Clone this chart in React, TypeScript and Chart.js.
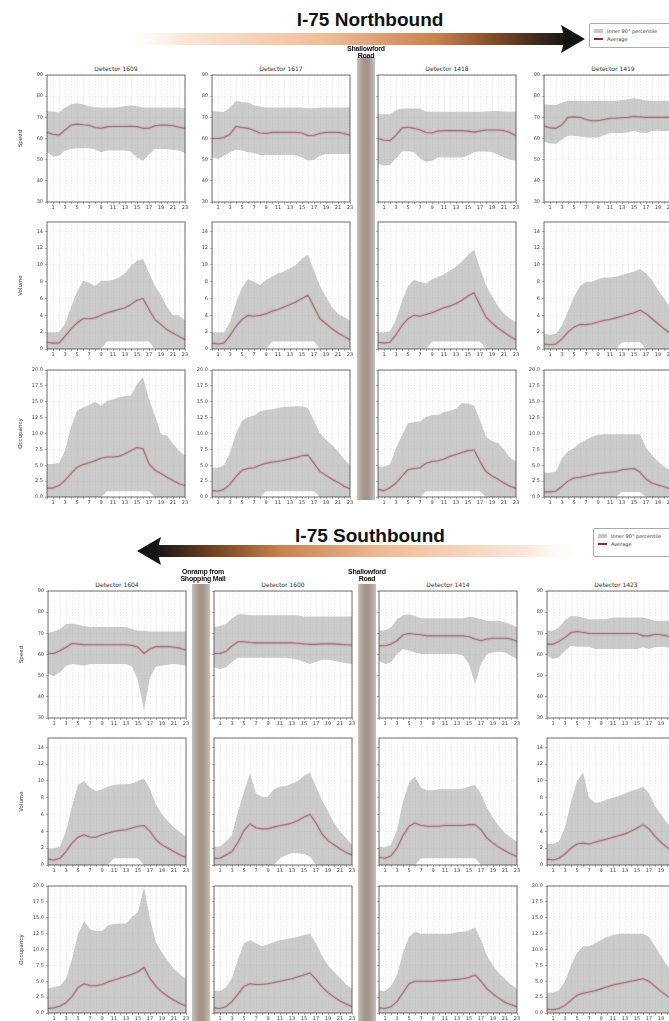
import React, { useEffect, useRef } from 'react';
import { Chart, registerables } from 'chart.js';
Chart.register(...registerables);

// ---------- categories / ticks ----------
const HOURS = [0,1,2,3,4,5,6,7,8,9,10,11,12,13,14,15,16,17,18,19,20,21,22,23];
const SPEED_TICKS = [30,40,50,60,70,80,90];
const VOLUME_TICKS = [0,2,4,6,8,10,12,14];
const OCC_TICKS = [0,2.5,5,7.5,10,12.5,15,17.5,20];
const NB_DETECTORS = ['1609','1617','1418','1419'];
const SB_DETECTORS = ['1604','1600','1414','1423'];

// ---------- Northbound speed ----------
const nb1609SpeedAvg = [62.9,62,61.6,64,66.3,66.8,66.5,66.3,65.2,64.8,65.5,65.7,65.7,65.7,65.8,65.6,64.8,64.9,66,66.3,66.3,66,65.3,64.8];
const nb1609SpeedUp = [73,72.8,72.3,74.6,76.2,76.7,76.2,75.2,74.8,74.6,74.6,74.6,74.8,75.4,75.7,75.2,74.6,74.6,74.6,74.6,74.6,74.6,74.6,74.3];
const nb1609SpeedLo = [53.5,51.6,51.9,54.3,55,55.4,55.4,55.4,54.8,53.5,54.3,54.3,54.3,54.3,53.8,51,49.5,52.5,55,55,55,54.6,54.3,53.2];
const nb1617SpeedAvg = [60,60,60.5,62,65.7,65.2,64.8,63.8,62.6,62.4,62.9,62.9,62.9,62.9,62.9,62.6,61.4,61.5,62.4,62.9,62.9,62.9,62.4,61.6];
const nb1617SpeedUp = [73,72.8,72.5,74.6,77.8,77.3,77,75.7,75,74.6,74.6,74.6,74.6,74.6,74.6,74.6,74.3,74.3,74.6,74.6,74.6,74.6,74.6,74.6];
const nb1617SpeedLo = [51.1,50.3,51.9,53.5,54.7,54.3,53.5,53.2,52.2,52.2,52.2,52.2,52.2,52.2,52,51.1,49.6,50,51.9,52.7,52.7,52.7,52.7,52.7];
const nb1418SpeedAvg = [60,59.2,59,61.5,65,65.3,64.8,64,62.8,62.6,63.5,63.7,63.7,63.7,63.7,63.5,63,63.5,64,64,64,63.7,62.8,61.3];
const nb1418SpeedUp = [71.5,71.5,71.5,73.5,74.2,74.2,74.2,74.2,72.8,72.6,72.6,72.6,72.6,72.6,72.6,72.6,72.6,72.6,72.8,73,73,72.8,72.6,72.6];
const nb1418SpeedLo = [48,47.2,47.5,50.5,53.8,54,53.5,50.5,49,49.5,51,51,51,51,51,52,53.5,53.8,53.8,53.5,52.5,51,50,49.5];
const nb1419SpeedAvg = [66,65,64.8,66.5,70,70.2,70,69,68.4,68.4,69,69.6,69.6,69.8,70,70.4,70.2,70,70,70,70,70,70,69.8];
const nb1419SpeedUp = [76.2,76,75.8,77,77.8,77.8,77.8,77.8,77.8,77.8,77.8,77.8,77.8,78.2,78.6,79,78.6,78,77.8,77.8,77.8,77.8,77.8,77.8];
const nb1419SpeedLo = [58.5,57.6,57.4,59.5,61.3,61.3,61,60.5,60.3,60.5,61.5,62.6,62.6,62.6,63,63.7,62.8,62.6,63.5,63.7,63.5,63.5,63.5,63.5];

// ---------- Northbound volume ----------
const nb1609VolAvg = [0.8,0.7,0.7,1.5,2.4,3.1,3.6,3.6,3.7,4.0,4.3,4.5,4.7,4.9,5.3,5.8,6.0,4.7,3.5,2.9,2.3,1.9,1.5,1.1];
const nb1609VolUp = [2.0,2.0,2.0,3.0,5.0,6.8,8.1,7.9,7.5,8.1,8.1,8.2,8.5,9.0,9.9,10.5,10.7,9.1,7.5,6.4,5.0,4.0,4.0,3.4];
const nb1609VolLo = [0,0,0,0,0,0,0,0,0,0,0.9,0.9,0.9,0.9,0.9,0.9,0.9,0.9,0,0,0,0,0,0];
const nb1617VolAvg = [0.7,0.6,0.7,1.6,2.7,3.5,4.0,3.9,4.0,4.2,4.5,4.7,5.0,5.3,5.6,6.0,6.4,5.0,3.6,3.0,2.4,1.9,1.5,1.1];
const nb1617VolUp = [2.0,2.0,2.0,3.2,5.5,7.3,8.3,8.0,7.6,8.2,8.6,9.0,9.2,9.6,10.0,10.8,11.2,9.3,7.5,6.2,5.0,4.2,3.8,3.4];
const nb1617VolLo = [0,0,0,0,0,0,0,0,0,0,0.9,0.9,0.9,0.9,0.9,0.9,0.9,0.9,0,0,0,0,0,0];
const nb1418VolAvg = [0.8,0.7,0.8,1.7,2.8,3.6,4.0,3.9,4.1,4.3,4.6,4.9,5.1,5.4,5.8,6.3,6.7,5.2,3.8,3.1,2.5,2.0,1.5,1.1];
const nb1418VolUp = [2.0,2.0,2.1,3.5,5.7,7.5,8.2,8.0,7.8,8.3,8.6,8.9,9.3,9.8,10.4,11.2,11.8,9.6,7.6,6.3,5.1,4.2,3.6,3.2];
const nb1418VolLo = [0,0,0,0,0,0,0,0,0,0.9,0.9,0.9,0.9,0.9,0.9,0.9,0.9,0.9,0,0,0,0,0,0];
const nb1419VolAvg = [0.6,0.5,0.6,1.2,2.0,2.6,2.9,2.9,3.0,3.2,3.4,3.5,3.7,3.9,4.1,4.3,4.6,4.2,3.6,3.0,2.4,1.9,1.4,1.0];
const nb1419VolUp = [1.8,1.7,1.8,2.8,4.5,6.2,7.5,8.0,8.0,8.3,8.5,8.5,8.6,8.8,9.0,9.2,9.5,9.0,8.2,7.0,6.0,5.0,4.0,3.2];
const nb1419VolLo = [0,0,0,0,0,0,0,0,0,0,0,0,0,0.8,0.8,0.8,0.8,0,0,0,0,0,0,0];

// ---------- Northbound occupancy ----------
const nb1609OccAvg = [1.4,1.4,1.8,2.6,3.7,4.7,5.1,5.4,5.7,6.1,6.3,6.3,6.4,6.8,7.3,7.8,7.6,5.2,4.2,3.7,3.1,2.6,2.1,1.8];
const nb1609OccUp = [5.2,5.2,5.4,7.3,11.0,13.6,14.1,14.5,15.0,14.4,15.1,15.4,15.7,15.9,16.0,17.8,18.8,15.4,12.8,9.9,9.7,8.4,7.3,6.5];
const nb1609OccLo = [0,0,0,0,0,0,0,0,0,0,0.9,0.9,0.9,0.9,0.9,0.9,0.9,0.9,0,0,0,0,0,0];
const nb1617OccAvg = [1.0,0.9,1.2,2.0,3.2,4.2,4.5,4.6,5.0,5.3,5.5,5.6,5.8,6.0,6.2,6.5,6.6,5.3,4.0,3.4,2.8,2.3,1.7,1.3];
const nb1617OccUp = [4.6,4.6,5.0,7.0,10.0,12.0,12.6,12.8,13.5,13.7,13.8,14.0,14.2,14.2,14.3,14.3,14.0,12.0,10.0,9.0,8.2,7.2,6.0,5.0];
const nb1617OccLo = [0,0,0,0,0,0,0,0,0,0.9,0.9,0.9,0.9,0.9,0.9,0.9,0.9,0.9,0,0,0,0,0,0];
const nb1418OccAvg = [1.2,1.0,1.45,2.2,3.3,4.3,4.5,4.6,5.3,5.6,5.7,6.0,6.4,6.7,7.0,7.3,7.4,5.6,4.0,3.3,2.8,2.2,1.7,1.35];
const nb1418OccUp = [4.8,4.8,5.1,7.7,9.7,11.6,11.8,11.9,12.6,12.9,12.9,13.4,13.6,13.9,14.8,14.7,14.4,12.1,9.5,8.8,8.5,7.5,6.2,5.6];
const nb1418OccLo = [0,0,0,0,0,0,0,0,0.9,0.9,0.9,0.9,0.9,0.9,0.9,0.9,0.9,0.9,0,0,0,0,0,0];
const nb1419OccAvg = [0.8,0.8,0.95,1.7,2.5,3.0,3.1,3.3,3.5,3.7,3.8,3.9,4.0,4.3,4.4,4.5,3.9,2.8,2.2,1.9,1.6,1.3,1.1,0.9];
const nb1419OccUp = [3.8,3.8,4.0,6.1,7.2,7.7,8.5,9.0,9.5,9.8,9.9,9.9,9.9,9.9,9.9,9.9,9.9,7.7,6.6,5.6,4.8,4.2,3.8,3.5];
const nb1419OccLo = [0,0,0,0,0,0,0,0,0,0,0,0,0,0.8,0.8,0.8,0.8,0,0,0,0,0,0,0];

// ---------- Southbound speed ----------
const sb1604SpeedAvg = [60.5,60.5,61.8,63.4,65.2,64.9,64.6,64.6,64.6,64.6,64.6,64.6,64.6,64.6,64.3,63.4,60.5,62.6,63.7,63.7,63.7,63.4,63,62];
const sb1604SpeedUp = [70.4,70.9,72,74.3,74.6,74,73.5,73,73,73,73,73,73,73,72,71.2,71.2,70.9,70.9,70.9,70.9,70.9,70.9,70.9];
const sb1604SpeedLo = [50.8,50,51.6,54.7,55.5,55.2,54.7,55.5,55.5,55.5,55.5,55.5,55.5,55.5,54.3,47.7,33.6,49.2,54.3,54.7,55.2,55.5,55.2,54.7];
const sb1600SpeedAvg = [60.5,60.5,61.5,64,66,66,65.7,65.5,65.5,65.5,65.5,65.5,65.5,65.5,65.3,65,64.8,64.8,65,65,65,64.8,64.6,64.5];
const sb1600SpeedUp = [73,73.5,74.5,77,79,79,78.5,78.5,78.5,78.5,78.5,78.5,78.5,78.5,78.5,78,78,78,78,78,78,78,78,78];
const sb1600SpeedLo = [54,53,54,56.5,58.5,58.5,58.5,58.5,58.5,58.5,58.5,58.5,58.5,58,57.5,56.5,55.5,56.5,57.5,57.5,57,56.5,56,55.5];
const sb1414SpeedAvg = [64.1,64.1,64.9,66.5,69.3,69.9,69.6,69.3,68.8,68.8,68.8,68.8,68.8,68.8,68.8,68.4,67.3,66.5,67.3,67.7,67.7,67.7,67.3,66.2];
const sb1414SpeedUp = [71.2,71.5,72.8,76.7,78.7,79,78.2,77.1,77.1,77.1,77.1,77.1,77.1,77.1,77.1,77.8,77.5,76.7,75.9,75.9,75.9,75.1,74.3,72.8];
const sb1414SpeedLo = [57.1,55.5,56.3,60.2,62.6,61.8,61,60.2,60.2,60.2,60.2,60.2,60.2,60.2,59.4,55.5,46.1,55.5,60.2,61,61.3,61,59.4,57.9];
const sb1423SpeedAvg = [64.9,64.9,66.2,68,70.4,70.9,70.4,69.9,69.9,69.9,69.9,69.9,69.9,69.9,69.9,69.9,68.8,68.8,69.6,69.3,68.8,68.4,68.4,68.4];
const sb1423SpeedUp = [71.2,71.2,72.8,76.2,78.2,78,77.5,76.7,76.7,76.7,76.7,77.5,77.5,77.5,77.5,77.5,77.5,76.7,75.9,75.9,75.9,75.9,75.1,75];
const sb1423SpeedLo = [59.4,57.9,58.7,61.8,64.1,63.7,63.7,63.7,62.6,62.6,62.6,62.6,62.6,62.6,62.6,62.6,63.4,62.6,63.4,63.7,63.4,62.6,62.6,62.6];

// ---------- Southbound volume ----------
const sb1604VolAvg = [0.7,0.6,0.8,1.6,2.6,3.3,3.6,3.3,3.3,3.6,3.8,4.0,4.1,4.2,4.4,4.6,4.7,4.0,3.0,2.4,2.0,1.6,1.2,0.9];
const sb1604VolUp = [2.0,2.0,2.2,4.0,7.0,9.5,10.0,9.2,8.8,9.0,9.3,9.5,9.6,9.6,9.7,10.0,10.3,9.0,7.2,6.0,5.2,4.5,3.9,3.4];
const sb1604VolLo = [0,0,0,0,0,0,0,0,0,0,0,0.8,0.8,0.8,0.8,0.8,0,0,0,0,0,0,0,0];
const sb1600VolAvg = [0.8,0.8,1.2,1.6,2.7,4.1,4.9,4.4,4.3,4.3,4.5,4.7,4.8,5.0,5.3,5.7,6.0,5.0,3.7,2.9,2.4,1.9,1.5,1.2];
const sb1600VolUp = [2.2,2.2,2.8,3.6,6.4,8.7,10.9,8.5,8.1,8.1,9.0,9.3,9.4,9.7,10.0,10.6,11.0,9.3,7.7,6.4,5.0,4.0,3.2,2.4];
const sb1600VolLo = [0,0,0,0,0,0,0,0,0,0,0,0.8,1.2,1.4,1.4,1.3,1.0,0,0,0,0,0,0,0];
const sb1414VolAvg = [0.9,0.8,1.1,2.0,3.5,4.6,5.0,4.7,4.6,4.6,4.6,4.7,4.7,4.7,4.7,4.8,4.8,4.2,3.2,2.6,2.1,1.7,1.3,1.0];
const sb1414VolUp = [2.2,2.1,2.4,4.2,7.5,9.8,10.5,9.2,8.9,8.9,9.0,9.0,9.0,9.0,9.1,9.3,9.5,8.5,6.8,5.6,4.6,3.8,3.2,2.8];
const sb1414VolLo = [0,0,0,0,0,0,0,0.8,0.8,0.8,0.8,0.8,0.8,0.8,0.8,0.8,0.8,0,0,0,0,0,0,0];
const sb1423VolAvg = [0.7,0.6,0.8,1.3,2.0,2.5,2.6,2.5,2.7,2.9,3.1,3.3,3.5,3.7,4.0,4.4,4.8,4.3,3.4,2.7,2.1,1.6,1.2,0.9];
const sb1423VolUp = [2.5,2.5,2.8,4.5,7.5,10.0,11.0,8.0,7.4,7.5,7.8,8.0,8.2,8.5,8.8,9.0,9.3,8.5,7.0,6.0,5.0,4.2,3.5,3.0];
const sb1423VolLo = [0,0,0,0,0,0,0,0,0,0,0,0,0,0,0,0,0,0,0,0,0,0,0,0];

// ---------- Southbound occupancy ----------
const sb1604OccAvg = [0.7,0.8,1.1,1.6,2.6,4.0,4.6,4.3,4.3,4.5,4.9,5.2,5.5,5.8,6.1,6.5,7.2,5.4,4.2,3.3,2.6,2.0,1.5,1.1];
const sb1604OccUp = [3.8,4.1,4.3,5.4,8.5,12.4,14.5,13.2,12.9,12.9,13.8,14.0,14.1,14.1,15.1,15.9,19.8,14.9,11.1,9.5,8.2,6.9,6.1,5.4];
const sb1604OccLo = [0,0,0,0,0,0,0,0,0,0,0,0,0,0,0,0,0,0,0,0,0,0,0,0];
const sb1600OccAvg = [0.8,0.7,1.0,1.8,3.0,4.2,4.6,4.5,4.5,4.6,4.8,5.0,5.2,5.4,5.7,6.0,6.3,5.3,4.1,3.2,2.5,1.9,1.4,1.0];
const sb1600OccUp = [3.5,3.5,4.0,5.5,8.5,11.0,11.5,11.0,10.5,10.8,11.2,11.5,11.6,11.8,12.0,12.3,12.5,11.0,9.0,7.5,6.5,5.5,4.5,3.8];
const sb1600OccLo = [0,0,0,0,0,0,0,0,0,0,0,0,0,0,0,0,0,0,0,0,0,0,0,0];
const sb1414OccAvg = [0.8,0.7,1.0,1.8,3.2,4.6,5.0,5.0,5.0,5.0,5.1,5.1,5.2,5.3,5.4,5.6,6.0,5.0,3.8,3.0,2.3,1.7,1.3,1.0];
const sb1414OccUp = [3.5,3.5,4.2,6.0,9.5,12.0,12.8,12.5,12.5,12.5,12.5,12.5,12.5,12.7,12.8,13.0,13.5,11.5,9.0,7.5,6.3,5.3,4.5,3.8];
const sb1414OccLo = [0,0,0,0,0,0,0,0,0,0,0,0,0,0,0,0,0,0,0,0,0,0,0,0];
const sb1423OccAvg = [0.6,0.5,0.7,1.2,2.0,2.8,3.1,3.3,3.5,3.8,4.1,4.4,4.6,4.8,5.0,5.2,5.4,5.0,4.2,3.4,2.7,2.1,1.6,1.2];
const sb1423OccUp = [3.2,3.2,3.6,5.0,7.5,9.5,10.5,10.5,11.0,11.5,12.0,12.3,12.5,12.5,12.5,12.5,12.5,12.0,10.5,9.0,7.5,6.5,5.5,4.5];
const sb1423OccLo = [0,0,0,0,0,0,0,0,0,0,0,0,0,0,0,0,0,0,0,0,0,0,0,0];

// ---------- row definitions ----------
const ROWS = [
  { label: 'Speed', min: 30, max: 90, ticks: SPEED_TICKS, fmt: (v: number) => String(v) },
  { label: 'Volume', min: 0, max: 15.1, ticks: VOLUME_TICKS, fmt: (v: number) => String(v) },
  { label: 'Occupancy', min: 0, max: 20, ticks: OCC_TICKS, fmt: (v: number) => v.toFixed(1) },
];

type Series = { avg: number[]; up: number[]; lo: number[] };
const NB_SERIES: Series[][] = [
  [
    { avg: nb1609SpeedAvg, up: nb1609SpeedUp, lo: nb1609SpeedLo },
    { avg: nb1617SpeedAvg, up: nb1617SpeedUp, lo: nb1617SpeedLo },
    { avg: nb1418SpeedAvg, up: nb1418SpeedUp, lo: nb1418SpeedLo },
    { avg: nb1419SpeedAvg, up: nb1419SpeedUp, lo: nb1419SpeedLo },
  ],
  [
    { avg: nb1609VolAvg, up: nb1609VolUp, lo: nb1609VolLo },
    { avg: nb1617VolAvg, up: nb1617VolUp, lo: nb1617VolLo },
    { avg: nb1418VolAvg, up: nb1418VolUp, lo: nb1418VolLo },
    { avg: nb1419VolAvg, up: nb1419VolUp, lo: nb1419VolLo },
  ],
  [
    { avg: nb1609OccAvg, up: nb1609OccUp, lo: nb1609OccLo },
    { avg: nb1617OccAvg, up: nb1617OccUp, lo: nb1617OccLo },
    { avg: nb1418OccAvg, up: nb1418OccUp, lo: nb1418OccLo },
    { avg: nb1419OccAvg, up: nb1419OccUp, lo: nb1419OccLo },
  ],
];
const SB_SERIES: Series[][] = [
  [
    { avg: sb1604SpeedAvg, up: sb1604SpeedUp, lo: sb1604SpeedLo },
    { avg: sb1600SpeedAvg, up: sb1600SpeedUp, lo: sb1600SpeedLo },
    { avg: sb1414SpeedAvg, up: sb1414SpeedUp, lo: sb1414SpeedLo },
    { avg: sb1423SpeedAvg, up: sb1423SpeedUp, lo: sb1423SpeedLo },
  ],
  [
    { avg: sb1604VolAvg, up: sb1604VolUp, lo: sb1604VolLo },
    { avg: sb1600VolAvg, up: sb1600VolUp, lo: sb1600VolLo },
    { avg: sb1414VolAvg, up: sb1414VolUp, lo: sb1414VolLo },
    { avg: sb1423VolAvg, up: sb1423VolUp, lo: sb1423VolLo },
  ],
  [
    { avg: sb1604OccAvg, up: sb1604OccUp, lo: sb1604OccLo },
    { avg: sb1600OccAvg, up: sb1600OccUp, lo: sb1600OccLo },
    { avg: sb1414OccAvg, up: sb1414OccUp, lo: sb1414OccLo },
    { avg: sb1423OccAvg, up: sb1423OccUp, lo: sb1423OccLo },
  ],
];

// ---------- layout ----------
const PW = 138;
const PH = 128;
const NB_TOPS = [74, 221, 369];
const SB_TOPS = [590, 737, 885];
const NB_LEFTS = [47, 212, 378, 544];
const SB_LEFTS = [48, 214, 379, 547];
const PAD_TOP = 4;
const PAD_RIGHT = 7;
const X_H = 9;

const SMALL_FONT = "'DejaVu Sans', sans-serif";

const framePlugin = {
  id: 'frame',
  afterDraw(chart: any) {
    const { ctx, chartArea: a } = chart;
    ctx.save();
    ctx.strokeStyle = '#4a4a4a';
    ctx.lineWidth = 0.8;
    ctx.strokeRect(a.left, a.top, a.right - a.left, a.bottom - a.top);
    ctx.restore();
  },
};

function Panel({ left, top, row, col, s }: { left: number; top: number; row: number; col: number; s: Series }) {
  const ref = useRef<HTMLCanvasElement>(null);
  const yW = col === 0 ? 30 : 24;
  const W = yW + PW + PAD_RIGHT;
  const H = PAD_TOP + PH + X_H;
  useEffect(() => {
    const r = ROWS[row];
    const pts = (arr: number[]) => HOURS.map((h, i) => ({ x: h, y: arr[i] }));
    const chart = new Chart(ref.current as HTMLCanvasElement, {
      type: 'line',
      data: {
        datasets: [
          { data: pts(s.lo), borderWidth: 0, pointRadius: 0, fill: false, borderColor: 'rgba(0,0,0,0)' },
          { data: pts(s.up), borderWidth: 0, pointRadius: 0, fill: '-1', borderColor: 'rgba(0,0,0,0)', backgroundColor: 'rgba(160,160,160,0.55)' },
          { data: pts(s.avg), borderWidth: 3.2, pointRadius: 0, fill: false, borderColor: 'rgba(215,95,110,0.28)' },
          { data: pts(s.avg), borderWidth: 1.1, pointRadius: 0, fill: false, borderColor: '#9e2637' },
        ],
      } as any,
      options: {
        responsive: false,
        maintainAspectRatio: false,
        animation: false,
        devicePixelRatio: 1,
        layout: { padding: { left: 0, top: PAD_TOP, right: PAD_RIGHT, bottom: 0 } },
        plugins: { legend: { display: false }, tooltip: { enabled: false }, title: { display: false } },
        elements: { line: { tension: 0, borderJoinStyle: 'round' } },
        scales: {
          x: {
            type: 'linear',
            min: 0,
            max: 23,
            afterBuildTicks: (sc: any) => { sc.ticks = HOURS.map((v) => ({ value: v })); },
            afterFit: (sc: any) => { sc.height = X_H; },
            ticks: {
              autoSkip: false,
              maxRotation: 0,
              padding: 1,
              color: '#444',
              font: { size: 5, family: SMALL_FONT },
              callback: (v: any) => (Number(v) % 2 === 1 ? String(v) : ''),
            },
            grid: { color: 'rgba(0,0,0,0.16)', lineWidth: 0.5, tickLength: 2, tickColor: '#666' },
            border: { display: false, dash: [1.5, 1.5] },
          },
          y: {
            min: r.min,
            max: r.max,
            afterBuildTicks: (sc: any) => { sc.ticks = r.ticks.map((v) => ({ value: v })); },
            afterFit: (sc: any) => { sc.width = yW; },
            ticks: {
              padding: 2,
              color: '#444',
              font: { size: 5, family: SMALL_FONT },
              callback: (v: any) => r.fmt(Number(v)),
            },
            grid: { color: 'rgba(0,0,0,0.12)', lineWidth: 0.5, tickLength: 2, tickColor: '#666' },
            border: { display: false, dash: [1.5, 1.5] },
            title: { display: col === 0, text: r.label, color: '#333', font: { size: 5.5, family: SMALL_FONT }, padding: { top: 0, bottom: 1 } },
          },
        },
      } as any,
      plugins: [framePlugin],
    });
    return () => chart.destroy();
  }, []);
  return (
    <canvas
      ref={ref}
      width={W}
      height={H}
      style={{ position: 'absolute', left: left - yW, top: top - PAD_TOP, width: W, height: H }}
    />
  );
}

function Group({ tops, lefts, series, detectors }: { tops: number[]; lefts: number[]; series: Series[][]; detectors: string[] }) {
  const els: any[] = [];
  detectors.forEach((d, c) => {
    els.push(
      <div key={'t' + c} style={{ position: 'absolute', left: lefts[c], top: tops[0] - 9, width: PW, textAlign: 'center', fontFamily: SMALL_FONT, fontSize: 6, color: '#333', lineHeight: '7px', whiteSpace: 'nowrap' }}>
        {'Detector ' + d}
      </div>
    );
  });
  tops.forEach((t, r) => {
    lefts.forEach((l, c) => {
      els.push(<Panel key={r + '-' + c} left={l} top={t} row={r} col={c} s={series[r][c]} />);
    });
  });
  return <>{els}</>;
}

function RoadBar({ left, top, height }: { left: number; top: number; height: number }) {
  return (
    <div style={{ position: 'absolute', left, top, width: 18, height, background: 'linear-gradient(to right, #c8c1bb 0%, #b4aaa2 18%, #a3958a 38%, #a3958a 62%, #b4aaa2 82%, #c8c1bb 100%)' }} />
  );
}

function RoadLabel({ cx, top, lines }: { cx: number; top: number; lines: string[] }) {
  return (
    <div style={{ position: 'absolute', left: cx - 50, top, width: 100, textAlign: 'center', fontFamily: "'Liberation Sans', Arial, sans-serif", fontWeight: 'bold', fontSize: 7, lineHeight: '7px', color: '#111', letterSpacing: '-0.2px' }}>
      {lines.map((t, i) => <div key={i}>{t}</div>)}
    </div>
  );
}

function Legend({ left, top, height }: { left: number; top: number; height: number }) {
  return (
    <div style={{ position: 'absolute', left, top, width: 110, height, border: '1px solid #aaa', borderRadius: 2, background: '#fff', fontFamily: SMALL_FONT, fontSize: 5, color: '#333', boxSizing: 'border-box', padding: '3px 4px' }}>
      <div style={{ display: 'flex', alignItems: 'center', height: 8 }}>
        <span style={{ display: 'inline-block', width: 9, height: 4, background: '#c9c9c9', marginRight: 4 }} />
        <span>Inner 90° percentile</span>
      </div>
      <div style={{ display: 'flex', alignItems: 'center', height: 8 }}>
        <span style={{ display: 'inline-block', width: 9, height: 1.2, background: '#9e2637', marginRight: 4 }} />
        <span>Average</span>
      </div>
    </div>
  );
}

function Arrows() {
  return (
    <svg width={669} height={1021} style={{ position: 'absolute', left: 0, top: 0 }}>
      <defs>
        <linearGradient id="gN" x1="130" y1="0" x2="566" y2="0" gradientUnits="userSpaceOnUse">
          <stop offset="0" stopColor="#fdf3ec" stopOpacity="0" />
          <stop offset="0.12" stopColor="#fbe6d8" stopOpacity="1" />
          <stop offset="0.45" stopColor="#efbd99" />
          <stop offset="0.7" stopColor="#c98150" />
          <stop offset="0.85" stopColor="#7a4524" />
          <stop offset="1" stopColor="#151515" />
        </linearGradient>
        <linearGradient id="gS" x1="575" y1="0" x2="155" y2="0" gradientUnits="userSpaceOnUse">
          <stop offset="0" stopColor="#fdf3ec" stopOpacity="0" />
          <stop offset="0.12" stopColor="#fbe6d8" stopOpacity="1" />
          <stop offset="0.45" stopColor="#efbd99" />
          <stop offset="0.7" stopColor="#c98150" />
          <stop offset="0.85" stopColor="#7a4524" />
          <stop offset="1" stopColor="#151515" />
        </linearGradient>
      </defs>
      <rect x={130} y={33} width={436} height={12} fill="url(#gN)" />
      <polygon points="561,25 585,39 561,53 565,39" fill="#141414" />
      <rect x={155} y={545} width={420} height={12} fill="url(#gS)" />
      <polygon points="161,537 137,551 161,565 157,551" fill="#141414" />
    </svg>
  );
}

export default function App() {
  return (
    <div style={{ position: 'absolute', left: 0, top: 0, width: 669, height: 1021, overflow: 'hidden', background: '#fff' }}>
      <Arrows />
      <div style={{ position: 'absolute', left: 0, top: 9, width: 740, textAlign: 'center', fontFamily: "'Liberation Sans', Arial, sans-serif", fontWeight: 'bold', fontSize: 19, lineHeight: '22px', color: '#111' }}>
        I-75 Northbound
      </div>
      <div style={{ position: 'absolute', left: 0, top: 525, width: 740, textAlign: 'center', fontFamily: "'Liberation Sans', Arial, sans-serif", fontWeight: 'bold', fontSize: 19, lineHeight: '22px', color: '#111' }}>
        I-75 Southbound
      </div>
      <Legend left={589} top={23} height={25} />
      <Legend left={593} top={528} height={29} />

      <Group tops={NB_TOPS} lefts={NB_LEFTS} series={NB_SERIES} detectors={NB_DETECTORS} />
      <Group tops={SB_TOPS} lefts={SB_LEFTS} series={SB_SERIES} detectors={SB_DETECTORS} />

      <RoadBar left={357} top={57} height={443} />
      <RoadLabel cx={366} top={45} lines={['Shallowford', 'Road']} />
      <RoadBar left={192} top={584} height={437} />
      <RoadLabel cx={203} top={568} lines={['Onramp from', 'Shopping Mall']} />
      <RoadBar left={358} top={584} height={437} />
      <RoadLabel cx={367} top={568} lines={['Shallowford', 'Road']} />
    </div>
  );
}
